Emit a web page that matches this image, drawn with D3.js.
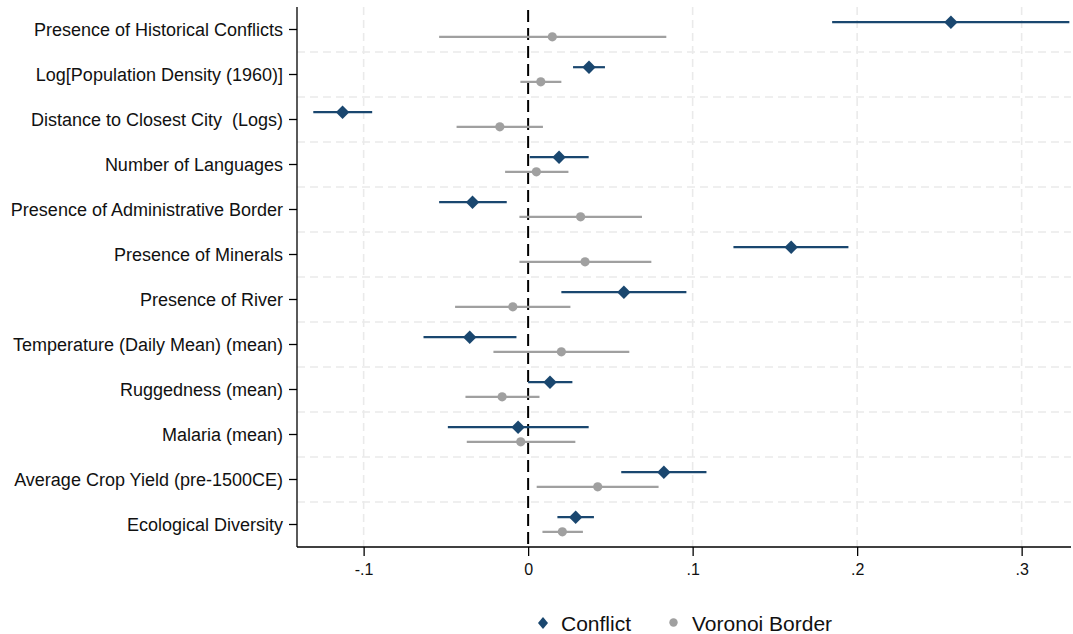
<!DOCTYPE html>
<html><head><meta charset="utf-8">
<script src="https://cdn.jsdelivr.net/npm/d3@7"></script>
<style>body{margin:0;background:#fff;} svg{display:block;font-family:"Liberation Sans",Arial,Helvetica,sans-serif;} text{white-space:pre;}</style>
</head><body>
<svg id="chart" width="1073" height="634"></svg>
<script>
const categories = ["Presence of Historical Conflicts","Log[Population Density (1960)]","Distance to Closest City  (Logs)","Number of Languages","Presence of Administrative Border","Presence of Minerals","Presence of River","Temperature (Daily Mean) (mean)","Ruggedness (mean)","Malaria (mean)","Average Crop Yield (pre-1500CE)","Ecological Diversity"];
const conflictEst = [0.257,0.037,-0.1128,0.0188,-0.0338,0.1599,0.0582,-0.0355,0.0133,-0.0061,0.0825,0.0289];
const conflictLo  = [0.1848,0.0273,-0.1306,0.001,-0.0541,0.1248,0.0202,-0.0636,0.0,-0.0488,0.0566,0.0178];
const conflictHi  = [0.329,0.0467,-0.0948,0.0368,-0.013,0.1947,0.0962,-0.0071,0.0269,0.0368,0.1084,0.040];
const voronoiEst = [0.0147,0.0077,-0.0172,0.005,0.0319,0.0346,-0.0093,0.0202,-0.0158,-0.0045,0.0423,0.0208];
const voronoiLo  = [-0.0541,-0.0047,-0.0435,-0.014,-0.0053,-0.0053,-0.0444,-0.0211,-0.0381,-0.0373,0.0052,0.0087];
const voronoiHi  = [0.084,0.0202,0.009,0.0245,0.0692,0.0749,0.0257,0.0615,0.0069,0.0287,0.0793,0.0333];
const xTicks = [-0.1,0,0.1,0.2,0.3];
const xTickLabels = ["-.1","0",".1",".2",".3"];
const seriesNames = ["Conflict","Voronoi Border"];

const colConf = "#1a476f", colVor = "#a0a0a0";
const svg = d3.select("#chart");
const pL = 297, pR = 1071, pT = 7, pB = 547;
const x = d3.scaleLinear().domain([-0.1405, 0.33]).range([pL, pR]);
const y = d3.scaleBand().domain(categories).range([pT, pB]);
const off = 7.3;

// grid vertical
svg.append("g").selectAll("line").data(xTicks.filter(d=>d!==0)).join("line")
  .attr("x1",d=>x(d)).attr("x2",d=>x(d)).attr("y1",pT).attr("y2",pB)
  .attr("stroke","#eaeaea").attr("stroke-width",1.6).attr("stroke-dasharray","8,5");
// grid horizontal
svg.append("g").selectAll("line").data(categories.slice(1)).join("line")
  .attr("x1",pL).attr("x2",pR).attr("y1",d=>y(d)).attr("y2",d=>y(d))
  .attr("stroke","#eaeaea").attr("stroke-width",1.6).attr("stroke-dasharray","8,5");

// zero line
svg.append("line").attr("x1",x(0)).attr("x2",x(0)).attr("y1",pT+3).attr("y2",pB)
  .attr("stroke","#000").attr("stroke-width",2).attr("stroke-dasharray","12,6");

// axes
const yAxis = svg.append("g").attr("transform",`translate(${pL},0)`)
  .call(d3.axisLeft(y).tickSize(8).tickPadding(6));
yAxis.select(".domain").attr("d",`M0,${pT}V${pB}`).attr("stroke","#000").attr("stroke-width",1.3);
yAxis.selectAll(".tick line").attr("stroke","#000").attr("stroke-width",1.3);
yAxis.selectAll("text").attr("font-size",18).attr("fill","#111").attr("dy","0.35em");

const xAxis = svg.append("g").attr("transform",`translate(0,${pB})`)
  .call(d3.axisBottom(x).tickValues(xTicks).tickFormat((d,i)=>xTickLabels[i]).tickSize(9).tickPadding(8));
xAxis.select(".domain").attr("d",`M${pL},0H${pR}`).attr("stroke","#000").attr("stroke-width",1.3);
xAxis.selectAll(".tick line").attr("stroke","#000").attr("stroke-width",1.3);
xAxis.selectAll("text").attr("font-size",16).attr("fill","#111");

const yc = d => y(d) + y.bandwidth()/2;
// voronoi
const gv = svg.append("g");
gv.selectAll("line").data(categories).join("line")
  .attr("x1",(d,i)=>x(voronoiLo[i])).attr("x2",(d,i)=>x(voronoiHi[i]))
  .attr("y1",d=>yc(d)+off).attr("y2",d=>yc(d)+off)
  .attr("stroke",colVor).attr("stroke-width",2.2);
gv.selectAll("circle").data(categories).join("circle")
  .attr("cx",(d,i)=>x(voronoiEst[i])).attr("cy",d=>yc(d)+off).attr("r",4.6).attr("fill",colVor);
// conflict
const gc = svg.append("g");
gc.selectAll("line").data(categories).join("line")
  .attr("x1",(d,i)=>x(conflictLo[i])).attr("x2",(d,i)=>x(conflictHi[i]))
  .attr("y1",d=>yc(d)-off).attr("y2",d=>yc(d)-off)
  .attr("stroke",colConf).attr("stroke-width",2.2);
const dia = d3.symbol().type(d3.symbolSquare).size(90);
gc.selectAll("path").data(categories).join("path")
  .attr("d",dia).attr("fill",colConf)
  .attr("transform",(d,i)=>`translate(${x(conflictEst[i])},${yc(d)-off}) rotate(45)`);

// legend
const lg = svg.append("g").attr("font-size",21).attr("fill","#111");
lg.append("path").attr("d",d3.symbol().type(d3.symbolSquare).size(70)).attr("fill",colConf)
  .attr("transform","translate(543,623) scale(0.85,1) rotate(45)");
lg.append("text").attr("x",561).attr("y",630.5).text(seriesNames[0]);
lg.append("circle").attr("cx",673.5).attr("cy",622.5).attr("r",4.2).attr("fill",colVor);
lg.append("text").attr("x",692).attr("y",630.5).text(seriesNames[1]);
</script>
</body></html>
